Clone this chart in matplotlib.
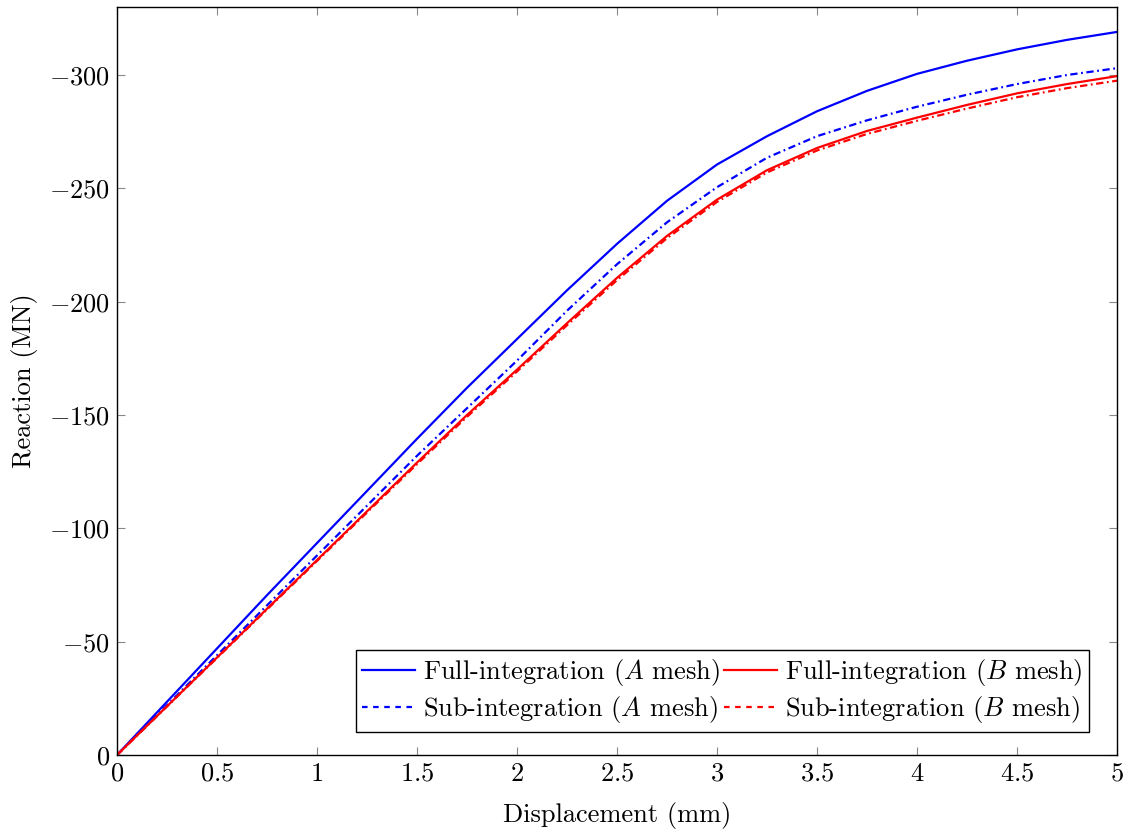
import matplotlib
matplotlib.use("Agg")
import matplotlib.pyplot as plt
from matplotlib.lines import Line2D
from matplotlib.ticker import FixedLocator, FuncFormatter

plt.rcParams['font.family'] = ['cmr10', 'DejaVu Serif']
plt.rcParams['mathtext.fontset'] = 'cm'
plt.rcParams['axes.formatter.use_mathtext'] = True

# ---- data ----
displacement = [0, 0.25, 0.5, 0.75, 1, 1.25, 1.5, 1.75, 2, 2.25, 2.5,
                2.75, 3, 3.25, 3.5, 3.75, 4, 4.25, 4.5, 4.75, 5]
full_A = [0, -23.5, -47, -70.5, -93.5, -116.5, -139.5, -162, -183.5, -205, -225.5,
          -244.5, -260.5, -273, -284, -293, -300.5, -306.3, -311.3, -315.5, -319]
sub_A = [0, -22, -44, -66, -88, -110, -132, -153, -174, -196, -216.5,
         -235, -250.5, -263.5, -273, -280, -286, -291.3, -296, -300, -303]
full_B = [0, -21.5, -43, -64.5, -86, -107.5, -129, -150, -170, -190.5, -210.5,
          -229, -245, -258, -267.8, -275.3, -281.2, -286.8, -291.9, -296, -299.5]
sub_B = [0, -21.4, -42.8, -64.2, -85.6, -107, -128.3, -149.2, -169.2, -189.6, -209.5,
         -228, -244, -257, -266.7, -274, -279.8, -285.2, -290.2, -294.2, -297.5]

x_ticks = [0, 0.5, 1, 1.5, 2, 2.5, 3, 3.5, 4, 4.5, 5]
y_ticks = [0, -50, -100, -150, -200, -250, -300]
labels = ["Full-integration ($A$ mesh)", "Sub-integration ($A$ mesh)",
          "Full-integration ($B$ mesh)", "Sub-integration ($B$ mesh)"]

fig = plt.figure(figsize=(11.3, 8.34), dpi=100)
ax = fig.add_axes([117/1130, 1 - 755/834, 1000/1130, 748/834])

lw = 1.6
dashdot = (0, (3.3, 1.6, 0.8, 1.6))
ax.plot(displacement, full_A, color='blue', lw=lw)
ax.plot(displacement, sub_A, color='blue', lw=lw, linestyle=dashdot)
ax.plot(displacement, full_B, color='red', lw=lw)
ax.plot(displacement, sub_B, color='red', lw=lw, linestyle=dashdot)

ax.set_xlim(0, 5)
ax.set_ylim(0, -330)

ax.xaxis.set_major_locator(FixedLocator(x_ticks))
ax.yaxis.set_major_locator(FixedLocator(y_ticks))
fmt = FuncFormatter(lambda v, p: r'$%g$' % v)
ax.xaxis.set_major_formatter(fmt)
ax.yaxis.set_major_formatter(fmt)
ax.tick_params(axis='both', direction='in', length=6, width=0.8, color='#888888',
               labelsize=19, top=True, right=True, pad=5)

for s in ax.spines.values():
    s.set_linewidth(1.0)
    s.set_color('black')

ax.set_xlabel('Displacement (mm)', fontsize=19, labelpad=12)
ax.set_ylabel('Reaction (MN)', fontsize=19, labelpad=8)

dashed = (0, (2.5, 2.5))
handles = [Line2D([], [], color='blue', lw=lw),
           Line2D([], [], color='blue', lw=lw, linestyle=dashed),
           Line2D([], [], color='red', lw=lw),
           Line2D([], [], color='red', lw=lw, linestyle=dashed)]
leg = ax.legend(handles, labels, ncol=2, loc='lower right', fontsize=19,
                bbox_to_anchor=(0.972, 0.0307), borderaxespad=0,
                frameon=True, fancybox=False, edgecolor='black', framealpha=1,
                handlelength=2.0, handletextpad=0.3,
                columnspacing=0.15, labelspacing=0.25, borderpad=0.25)
leg.get_frame().set_linewidth(1.0)

fig.savefig('out.png', dpi=100)
